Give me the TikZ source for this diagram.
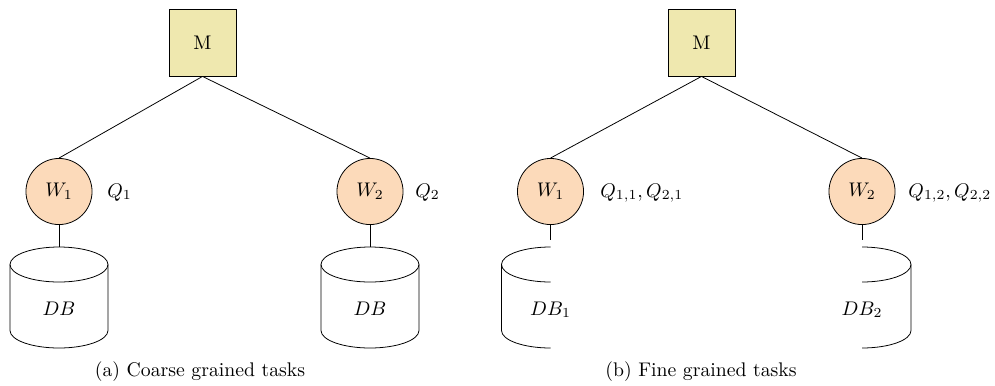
\documentclass[tikz,border=0pt]{standalone}
\definecolor{masterfill}{RGB}{239,232,175}
\definecolor{workerfill}{RGB}{252,218,186}
\newcommand{\cylrx}{24.84pt}
\newcommand{\cylry}{8.87pt}
\begin{document}
\begin{tikzpicture}[x=0.507pt, y=-0.507pt,
  master/.style={draw, fill=masterfill, minimum size=34pt, inner sep=0pt},
  worker/.style={draw, circle, fill=workerfill, minimum size=33.5pt, inner sep=0pt},
  load/.style={anchor=base west, inner sep=0pt},
  dbtext/.style={anchor=base, inner sep=0pt},
  caption/.style={anchor=base, inner sep=0pt}]
\useasboundingbox (0,0) rectangle (995,385);

% ---------- (a) coarse grained tasks ----------
\node[master] (Ma) at (202.5,42.5) {M};
\node[worker] (Wa1) at (59,191.5) {$W_1$};
\node[worker] (Wa2) at (370,191.5) {$W_2$};
\node[load] (Qa1) at (107,197) {$Q_1$};
\node[load] (Qa2) at (415,197) {$Q_2$};
\draw (Ma.south) -- (Wa1.north);
\draw (Ma.south) -- (Wa2.north);

% full cylinders
\foreach \cx/\nm in {59/Da1, 370/Da2} {
  \coordinate (\nm) at (\cx,247);
  \draw (\cx,264.5) ellipse [x radius=\cylrx, y radius=\cylry];
  \draw (\cx-49,264.5) -- (\cx-49,330.5)
        arc [start angle=180, end angle=360, x radius=\cylrx, y radius=\cylry]
        -- (\cx+49,264.5);
  \node[dbtext] at (\cx,315) {$DB$};
}
\draw (Wa1.south) -- (Da1);
\draw (Wa2.south) -- (Da2);
\node[caption] (Ca) at (200,376) {(a) Coarse grained tasks};

% ---------- (b) fine grained tasks ----------
\node[master] (Mb) at (701.5,42.5) {M};
\node[worker] (Wb1) at (550.5,191.5) {$W_1$};
\node[worker] (Wb2) at (862,191.5) {$W_2$};
\node[load] (Qb1) at (600,197) {$Q_{1,1},Q_{2,1}$};
\node[load] (Qb2) at (908,197) {$Q_{1,2},Q_{2,2}$};
\draw (Mb.south) -- (Wb1.north);
\draw (Mb.south) -- (Wb2.north);

% left half of a cylinder
\coordinate (Db1) at (550.5,240);
\draw (550.5,247) arc [start angle=90, end angle=270, x radius=\cylrx, y radius=\cylry];
\draw (501.5,264.5) -- (501.5,330.5)
      arc [start angle=180, end angle=270, x radius=\cylrx, y radius=\cylry];
\node[dbtext] at (550.5,315) {$DB_1$};

% right half of a cylinder
\coordinate (Db2) at (862,240);
\draw (862,247) arc [start angle=90, end angle=-90, x radius=\cylrx, y radius=\cylry];
\draw (911,264.5) -- (911,330.5)
      arc [start angle=0, end angle=-90, x radius=\cylrx, y radius=\cylry];
\node[dbtext] at (862,315) {$DB_2$};

\draw (Wb1.south) -- (Db1);
\draw (Wb2.south) -- (Db2);
\node[caption] (Cb) at (701,376) {(b) Fine grained tasks};
\end{tikzpicture}
\end{document}
